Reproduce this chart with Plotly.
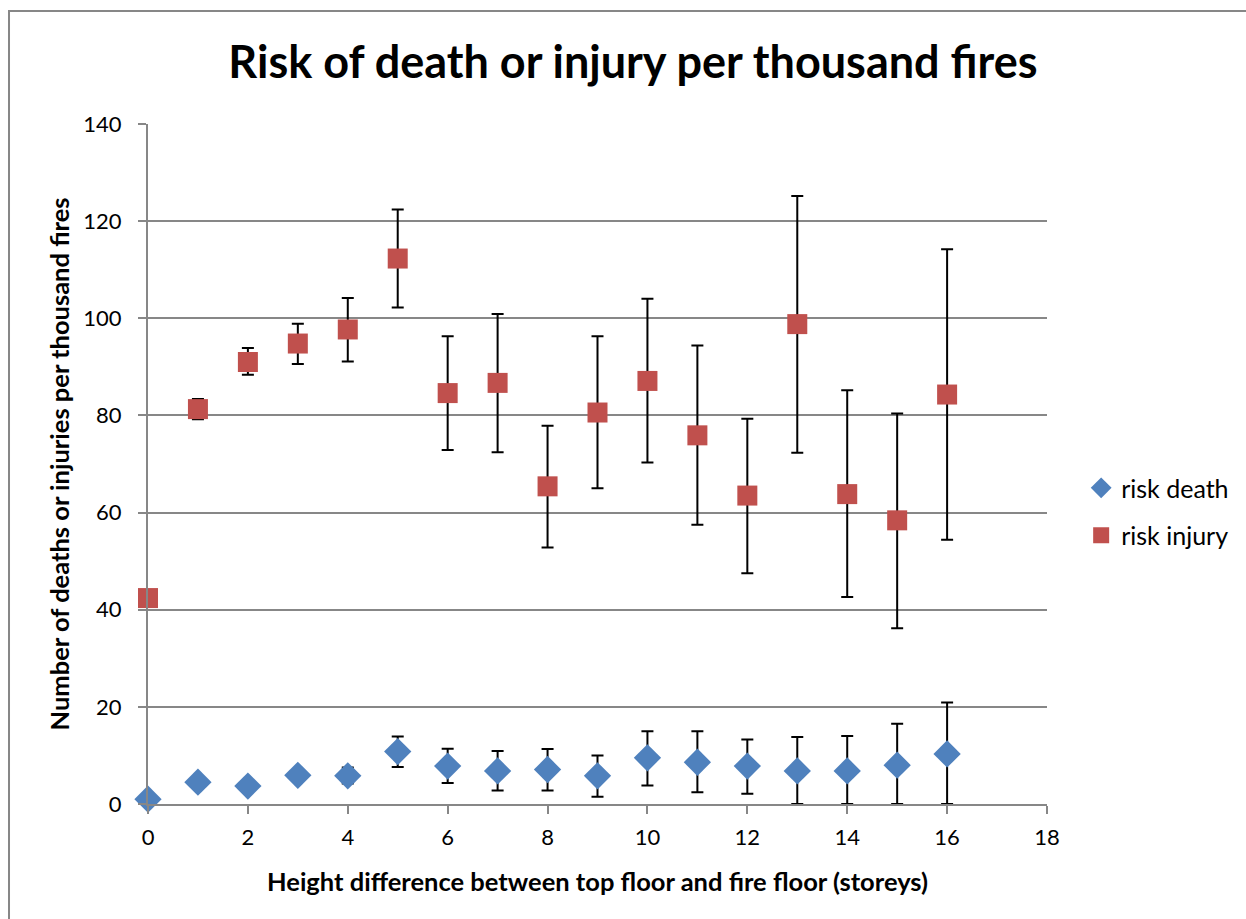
import plotly.graph_objects as go

storeys = list(range(17))

risk_death = [1.0, 4.5, 3.7, 5.9, 5.8, 10.8, 7.8, 6.8, 7.1, 5.8, 9.5, 8.6, 7.8, 6.8, 6.8, 8.0, 10.3]
death_upper = [1.0, 4.5, 3.7, 7.0, 7.5, 13.9, 11.4, 10.9, 11.3, 10.0, 15.0, 15.0, 13.3, 13.8, 14.0, 16.5, 20.9]
death_lower = [1.0, 4.5, 3.7, 5.0, 4.2, 7.6, 4.3, 2.8, 2.8, 1.5, 3.8, 2.4, 2.1, 0.0, 0.0, 0.0, 0.0]

risk_injury = [42.4, 81.3, 91.0, 94.8, 97.7, 112.3, 84.6, 86.7, 65.4, 80.6, 87.1, 75.9, 63.5, 98.8, 63.8, 58.4, 84.3]
injury_upper = [42.4, 83.4, 93.9, 98.9, 104.2, 122.4, 96.3, 100.9, 77.9, 96.3, 104.0, 94.4, 79.3, 125.2, 85.2, 80.4, 114.2]
injury_lower = [42.4, 79.2, 88.4, 90.6, 91.1, 102.2, 72.9, 72.4, 52.8, 65.0, 70.3, 57.5, 47.5, 72.3, 42.6, 36.2, 54.4]

FONT = "Lato"
GREY = "#878787"


def err(values, upper, lower):
    return dict(
        type="data",
        symmetric=False,
        array=[u - v for u, v in zip(upper, values)],
        arrayminus=[v - l for v, l in zip(values, lower)],
        color="black",
        thickness=2,
        width=6,
    )


fig = go.Figure()
fig.add_trace(
    go.Scatter(
        x=storeys,
        y=risk_death,
        mode="markers",
        name="risk death",
        legendgroup="death",
        marker=dict(symbol="diamond", size=21, color="#4F81BD"),
        error_y=err(risk_death, death_upper, death_lower),
        cliponaxis=False,
    )
)
fig.add_trace(
    go.Scatter(
        x=storeys,
        y=risk_injury,
        mode="markers",
        name="risk injury",
        legendgroup="injury",
        marker=dict(symbol="square", size=20, color="#C0504D"),
        error_y=err(risk_injury, injury_upper, injury_lower),
        cliponaxis=False,
    )
)

fig.update_layout(
    width=1246,
    height=919,
    margin=dict(l=148, r=199, t=124, b=115),
    plot_bgcolor="white",
    paper_bgcolor="white",
    font=dict(family=FONT, size=22, color="black"),
    title=dict(
        text="<b>Risk of death or injury per thousand fires</b>",
        font=dict(family=FONT, size=45, color="black"),
        x=0.508,
        xanchor="center",
        y=1 - 62 / 919,
        yanchor="middle",
    ),
    xaxis=dict(
        range=[0, 18],
        dtick=2,
        showgrid=False,
        zeroline=False,
        showline=True,
        linecolor=GREY,
        linewidth=2,
        ticks="outside",
        ticklen=8,
        tickwidth=2,
        tickcolor=GREY,
        tickfont=dict(size=22),
        ticklabelstandoff=5,
        title=dict(
            text="<b>Height difference between top floor and fire floor (storeys)</b>",
            font=dict(size=25.5),
            standoff=24,
        ),
    ),
    yaxis=dict(
        range=[0, 140],
        dtick=20,
        showgrid=True,
        gridcolor=GREY,
        gridwidth=1.5,
        zeroline=False,
        showline=True,
        linecolor=GREY,
        linewidth=2,
        ticks="outside",
        ticklen=8,
        tickwidth=2,
        tickcolor=GREY,
        tickfont=dict(size=22),
        ticklabelstandoff=12,
        title=dict(
            text="<b>Number of deaths or injuries per thousand fires</b>",
            font=dict(size=25.5),
            standoff=6,
        ),
    ),
    legend=dict(
        x=1.038,
        xanchor="left",
        y=0.43,
        yanchor="middle",
        font=dict(size=25),
        itemsizing="trace",
        tracegroupgap=12,
    ),
    shapes=[
        dict(
            type="rect",
            xref="paper",
            yref="paper",
            x0=-0.1546,
            x1=1.6,
            y0=-0.5,
            y1=1.166,
            line=dict(color=GREY, width=2),
            layer="below",
        )
    ],
)

# drop the page's default body margin so the figure sits at the window origin
fig.write_html(
    "out.html",
    config={"displayModeBar": False},
    post_script="document.body.style.margin='0px';",
)
